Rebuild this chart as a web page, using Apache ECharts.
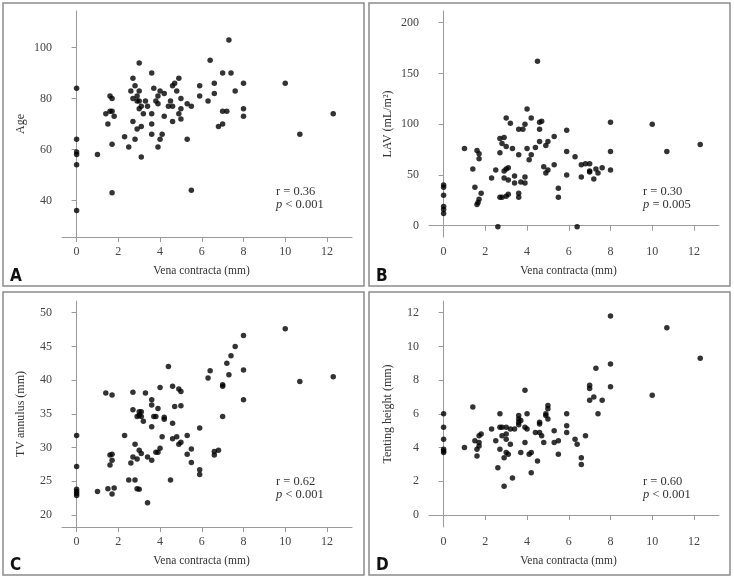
<!DOCTYPE html>
<html>
<head>
<meta charset="utf-8">
<script src="https://cdn.jsdelivr.net/npm/echarts@6/dist/echarts.min.js"></script>
<style>
html, body { margin: 0; padding: 0; background: #fff; }
#chart { width: 734px; height: 579px; }
</style>
</head>
<body>
<div id="chart"></div>
<script>
// tick labels
const vcTicks = [0, 2, 4, 6, 8, 10, 12]
const ageTicks = [40, 60, 80, 100]
const lavTicks = [0, 50, 100, 150, 200]
const tvaTicks = [20, 25, 30, 35, 40, 45, 50]
const thTicks = [0, 2, 4, 6, 8, 10, 12]

// A: vena contracta vs age
const vcA = [0, 0, 0, 0, 0, 0,
  1.0, 1.4, 1.5, 1.6, 1.7, 1.6, 1.7, 1.8, 1.7, 1.7,
  2.3, 2.5, 2.6, 2.7, 2.7, 2.8, 2.7, 2.8, 2.9, 2.9, 2.9,
  3.0, 3.0, 3.0, 3.0, 3.1, 3.1, 3.1, 3.2, 3.3, 3.4,
  3.6, 3.6, 3.6, 3.6, 3.7, 3.8, 3.9, 3.9, 3.9, 4.0, 4.0, 4.1, 4.2, 4.2, 4.4, 4.5,
  4.6, 4.6, 4.6, 4.7, 4.8, 4.9, 4.9, 5.0, 5.0, 5.0, 5.3, 5.3, 5.5, 5.5, 5.9, 5.9,
  6.3, 6.4, 6.6, 6.6, 6.8, 7.0, 7.0, 7.0, 7.2, 7.3, 7.4, 7.6, 8.0, 8.0, 8.0, 10.0, 10.7, 12.3]
const ageA = [84, 64, 59, 58, 54, 36,
  58, 74, 70, 81, 80, 75, 75, 73, 62, 43,
  65, 61, 83, 88, 80, 85, 71, 64, 81, 79, 68,
  94, 83, 79, 76, 77, 69, 57, 74, 79, 77,
  90, 74, 70, 66, 84, 79, 78, 61, 81, 83, 64, 66, 82, 73, 77, 79,
  85, 77, 71, 86, 83, 88, 74, 80, 76, 72, 78, 64, 77, 44, 85, 81,
  79, 95, 86, 82, 69, 90, 75, 70, 75, 103, 90, 83, 86, 76, 73, 86, 66, 74]

// B: vena contracta vs LAV
const vcB = [0, 0, 0, 0, 0, 0,
  1.0, 1.4, 1.5, 1.6, 1.7, 1.7, 1.8, 1.7, 1.65, 1.6,
  2.3, 2.5, 2.6, 2.7, 2.7, 2.9, 2.8, 3.0, 3.0, 3.2, 3.3,
  2.7, 2.8, 3.0, 3.1, 2.9, 3.0, 3.1, 2.9, 3.1,
  3.4, 3.4, 3.6, 3.6, 3.6, 3.6, 3.8, 3.7, 3.9, 3.9, 3.9, 4.0, 4.0, 4.1, 4.2, 4.2,
  4.4, 4.5, 4.6, 4.7, 4.6, 4.6, 4.8, 4.9, 5.0, 4.9, 5.0, 5.3, 5.3, 5.5, 5.5,
  5.9, 5.9, 5.9, 6.3, 6.6, 6.8, 7.0, 6.6, 7.0, 7.0, 7.2, 7.3, 7.4, 7.6,
  8.0, 8.0, 8.0, 10.0, 10.7, 12.3, 6.4]
const lavB = [40, 38, 30, 19, 16, 12,
  76, 56, 38, 74, 71, 66, 32, 26, 23, 21,
  47, 55, -1, 72, 86, 87, 81, 78, 106, 101, 76,
  28, 28, 29, 31, 54, 56, 57, 47, 45,
  49, 42, 70, 32, 28, 95, 95, 43, 48, 42, 100, 115, 76, 65, 70, 106,
  77, 162, 102, 103, 95, 83, 58, 79, 83, 52, 55, 88, 60, 37, 28,
  94, 73, 50, 68, 60, 61, 61, 48, 54, 53, 46, 56, 52, 57,
  102, 73, 55, 100, 73, 80, -1]

// C: vena contracta vs TV annulus
const vcC = [0, 0, 0, 0, 0, 0,
  1.0, 1.4, 1.7, 1.5, 1.8, 1.7, 1.6, 1.7, 1.7, 1.6,
  2.3, 2.5, 2.8, 2.7, 2.7, 2.6, 2.7, 2.8, 2.9, 3.0, 3.1, 2.9, 3.0,
  3.0, 3.1, 2.9, 3.0, 3.1, 3.2, 3.3, 3.4, 3.4,
  3.6, 3.6, 3.6, 3.6, 3.7, 3.8, 3.9, 3.8, 3.9, 4.0, 4.0, 4.1, 4.2, 4.2,
  4.4, 4.5, 4.6, 4.6, 4.6, 4.7, 4.8, 4.9, 5.0, 5.0, 4.9, 5.0, 5.3, 5.3, 5.5, 5.5,
  5.9, 5.9, 5.9,
  6.3, 6.4, 6.6, 6.6, 6.8, 7.0, 7.0, 7.0, 7.2, 7.3, 7.4, 7.6, 8.0, 8.0, 8.0, 10.0, 10.7, 12.3]
const tvaC = [31.8, 27.2, 23.8, 23.5, 23.2, 22.9,
  23.5, 38.1, 37.8, 23.9, 24.0, 23.1, 28.9, 29.0, 28.1, 27.4,
  31.8, 25.2, 25.2, 38.2, 35.6, 27.7, 28.6, 30.5, 28.3, 29.6, 29.1, 23.9, 23.8,
  35.3, 35.3, 34.6, 34.8, 34.6, 33.9, 38.1, 28.6, 21.8,
  37.1, 36.3, 33.1, 28.1, 34.6, 34.6, 35.8, 29.3, 29.3, 29.9, 38.9, 31.6, 34.5, 34.2,
  42.0, 25.2, 39.1, 33.6, 31.3, 36.1, 31.6, 38.7, 38.3, 36.2, 30.5, 30.8, 31.8, 29.0, 29.8, 27.8,
  32.9, 26.7, 26.0,
  40.3, 41.4, 29.4, 28.9, 29.6, 39.3, 39.1, 34.6, 42.5, 40.8, 43.6, 45.0, 46.6, 41.5, 37.1, 47.6, 39.8, 40.5]

// D: vena contracta vs tenting height
const vcD = [0, 0, 0, 0, 0, 0,
  1.0, 1.4, 1.5, 1.7, 1.7, 1.8, 1.7, 1.6, 1.6,
  2.3, 2.5, 2.6, 2.7, 2.7, 2.8, 3.0, 2.7, 2.8, 3.0, 3.0, 2.9, 3.0, 3.1, 3.2, 3.2, 2.9, 3.3, 3.4,
  3.6, 3.6, 3.6, 3.6, 3.7, 3.7, 3.9, 3.9, 3.9, 4.0, 4.0, 4.1, 4.2, 4.2, 4.4, 4.5,
  4.6, 4.7, 4.6, 4.6, 4.8, 4.9, 4.9, 5.0, 5.0, 5.0, 5.3, 5.3, 5.5, 5.5,
  5.9, 5.9, 5.9, 6.3, 6.4, 6.6, 6.6, 6.8, 7.0, 7.0, 7.0, 7.2, 7.3, 7.4, 7.6,
  8.0, 8.0, 8.0, 10.0, 10.7, 12.3]
const thD = [6.0, 5.2, 4.5, 3.9, 3.8, 3.7,
  4.0, 6.4, 4.4, 4.3, 4.7, 4.8, 4.1, 3.9, 3.5,
  5.1, 4.4, 2.8, 6.0, 5.2, 5.2, 5.2, 3.9, 4.7, 4.8, 4.5, 3.4, 3.7, 3.6, 4.2, 5.1, 1.7, 2.2, 5.1,
  5.9, 5.7, 5.5, 5.35, 5.6, 3.7, 4.3, 7.4, 5.2, 5.1, 6.0, 3.6, 3.7, 2.5, 4.9, 3.2,
  4.9, 4.7, 5.5, 5.4, 4.3, 6.0, 5.9, 6.5, 6.3, 5.7, 5.0, 4.3, 4.4, 3.6,
  6.0, 5.3, 4.9, 4.5, 4.2, 3.4, 3.0, 4.7, 7.7, 7.5, 6.8, 7.0, 8.7, 6.0, 6.8,
  11.8, 8.95, 7.6, 7.1, 11.1, 9.3]

const stats = [
  ['0.36', '<', '0.001'],
  ['0.30', '=', '0.005'],
  ['0.62', '<', '0.001'],
  ['0.60', '<', '0.001']
]
const letters = ['A', 'B', 'C', 'D']

const serif = '"Liberation Serif", "DejaVu Serif", serif'
const axisGray = '#9a9a9a'
const textGray = '#444'

const pairs = (xs, ys) => xs.map((x, i) => [x, ys[i]])

// panel boxes: [frameX, frameY, gridLeft, gridTop]
const panels = [
  [3, 3, 62, 11],
  [369, 3, 429, 11],
  [3, 292, 62, 301],
  [369, 292, 429, 301]
]

const grids = panels.map(p => ({ left: p[2], top: p[3], width: 290, height: 226 }))

const xAxes = panels.map((p, i) => ({
  gridIndex: i,
  type: 'value',
  min: -0.7,
  max: 13.2,
  name: 'Vena contracta (mm)',
  nameLocation: 'middle',
  nameGap: 28,
  nameTextStyle: { fontFamily: serif, fontSize: 11.5, color: '#333', padding: [0, 11, 0, 0] },
  axisLine: { show: true, lineStyle: { color: axisGray, width: 1 } },
  axisTick: { show: true, length: 5, customValues: vcTicks, lineStyle: { color: axisGray } },
  axisLabel: { customValues: vcTicks, margin: 9, fontFamily: serif, fontSize: 12, color: textGray },
  splitLine: { show: false }
}))

const yDefs = [
  ['Age', 25.6, 114.4, ageTicks],
  ['LAV (mL/m²)', -11.1, 211.5, lavTicks],
  ['TV annulus (mm)', 18.22, 51.73, tvaTicks],
  ['Tenting height (mm)', -0.71, 12.69, thTicks]
]

const yAxes = yDefs.map((d, i) => ({
  gridIndex: i,
  type: 'value',
  min: d[1],
  max: d[2],
  name: d[0],
  nameLocation: 'middle',
  nameGap: 35,
  nameTextStyle: { fontFamily: serif, fontSize: 12, color: '#333' },
  axisLine: { show: true, lineStyle: { color: axisGray, width: 1 } },
  axisTick: { show: true, length: 5, customValues: d[3], lineStyle: { color: axisGray } },
  axisLabel: { customValues: d[3], margin: 10, fontFamily: serif, fontSize: 12, color: textGray },
  splitLine: { show: false }
}))

const dataSets = [pairs(vcA, ageA), pairs(vcB, lavB), pairs(vcC, tvaC), pairs(vcD, thD)]

const series = dataSets.map((d, i) => ({
  type: 'scatter',
  xAxisIndex: i,
  yAxisIndex: i,
  symbol: 'circle',
  symbolSize: 5.5,
  itemStyle: { color: '#000' },
  data: d
}))

const graphic = []
panels.forEach((p, i) => {
  graphic.push({
    type: 'rect',
    shape: { x: p[0], y: p[1], width: 361, height: 283 },
    style: { fill: 'none', stroke: '#8c8c8c', lineWidth: 1.5 },
    silent: true
  })
  graphic.push({
    type: 'text',
    x: p[0] + 7,
    y: p[1] + 265,
    style: {
      text: letters[i],
      font: 'bold 17px "DejaVu Sans Condensed", "DejaVu Sans", sans-serif',
      fill: '#111'
    }
  })
  const s = stats[i]
  graphic.push({
    type: 'text',
    x: p[2] + 214,
    y: p[3] + 174,
    style: {
      text: 'r = ' + s[0] + '\n{i|p} ' + s[1] + ' ' + s[2],
      font: '12.5px ' + serif,
      fill: '#333',
      lineHeight: 13,
      rich: { i: { fontStyle: 'italic', fontFamily: serif, fontSize: 12.5, fill: '#333' } }
    }
  })
})

const myChart = echarts.init(document.getElementById('chart'))
myChart.setOption({
  animation: false,
  grid: grids,
  xAxis: xAxes,
  yAxis: yAxes,
  series: series,
  graphic: graphic
})
</script>
</body>
</html>
